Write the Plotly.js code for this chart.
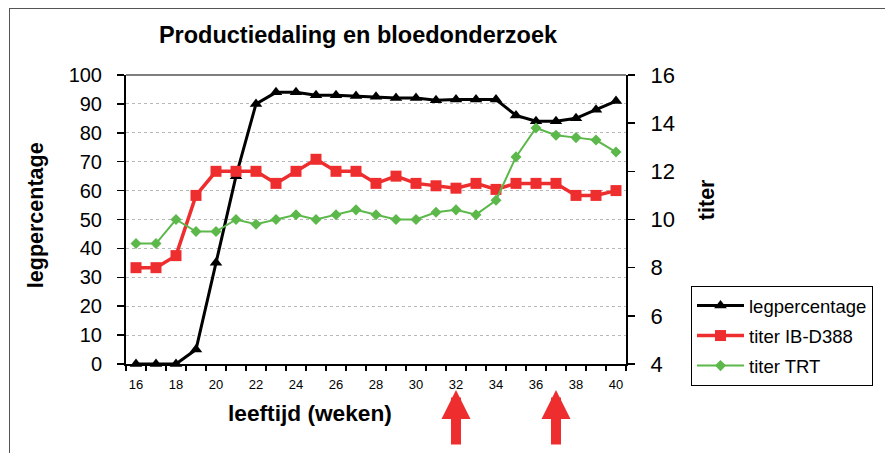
<!DOCTYPE html>
<html>
<head>
<meta charset="utf-8">
<script src="https://cdn.plot.ly/plotly-3.0.1.min.js"></script>
<style>
html,body{margin:0;padding:0;background:#fff;}
#wrap{position:relative;width:885px;height:453px;overflow:hidden;}
#chart{position:absolute;left:0;top:0;width:885px;height:453px;}
#frame{position:absolute;left:9px;top:8px;width:900px;height:460px;border-left:1.5px solid #555;border-top:1.5px solid #555;pointer-events:none;}
</style>
</head>
<body>
<div id="wrap"><div id="chart"></div><div id="frame"></div></div>
<script>
// Data
var weeks = [16,17,18,19,20,21,22,23,24,25,26,27,28,29,30,31,32,33,34,35,36,37,38,39,40];
var legpercentage = [0,0,0,5,35,65,90,94,94,93,93,92.7,92.5,92,92,91.3,91.5,91.5,91.5,86,84,84,85,88,91];
var titerIBD388 = [8,8,8.5,11,12,12,12,11.5,12,12.5,12,12,11.5,11.8,11.5,11.4,11.3,11.5,11.25,11.5,11.5,11.5,11,11,11.2];
var titerTRT = [9,9,10,9.5,9.5,10,9.8,10,10.2,10,10.2,10.4,10.2,10,10,10.3,10.4,10.2,10.8,12.6,13.8,13.5,13.4,13.3,12.8];
var xTickVals = [16,18,20,22,24,26,28,30,32,34,36,38,40];
var xTickText = ['16','18','20','22','24','26','28','30','32','34','36','38','40'];
var xBoundaries = [15.5,16.5,17.5,18.5,19.5,20.5,21.5,22.5,23.5,24.5,25.5,26.5,27.5,28.5,29.5,30.5,31.5,32.5,33.5,34.5,35.5,36.5,37.5,38.5,39.5,40.5];
var arrowWeeks = [32,37];

var FONT = 'Liberation Sans, Arial, sans-serif';

var traces = [
  {x: weeks, y: legpercentage, name: 'legpercentage', type: 'scatter', mode: 'lines+markers',
   line: {color: '#000000', width: 3}, marker: {symbol: 'triangle-up', size: 11, color: '#000000'},
   yaxis: 'y', cliponaxis: false, legendgroup: 'a'},
  {x: weeks, y: titerIBD388, name: 'titer IB-D388', type: 'scatter', mode: 'lines+markers',
   line: {color: '#ee2e2e', width: 3.5}, marker: {symbol: 'square', size: 11, color: '#ee2e2e'},
   yaxis: 'y2', cliponaxis: false, legendgroup: 'b'},
  {x: weeks, y: titerTRT, name: 'titer TRT', type: 'scatter', mode: 'lines+markers',
   line: {color: '#5cb84a', width: 2}, marker: {symbol: 'diamond', size: 8.5, color: '#5cb84a'},
   yaxis: 'y2', cliponaxis: false, legendgroup: 'c'}
];

var annotations = [
  {text: '<b>leeftijd (weken)</b>', xref: 'paper', yref: 'paper', x: 0.368, y: -0.17,
   xanchor: 'center', yanchor: 'middle', showarrow: false, font: {family: FONT, size: 22.7, color: '#000'}},
  {text: '<b>legpercentage</b>', xref: 'paper', yref: 'paper', x: -0.18, y: 0.515, textangle: -90,
   xanchor: 'center', yanchor: 'middle', showarrow: false, font: {family: FONT, size: 21.5, color: '#000'}},
  {text: '<b>titer</b>', xref: 'paper', yref: 'paper', x: 1.162, y: 0.567, textangle: -90,
   xanchor: 'center', yanchor: 'middle', showarrow: false, font: {family: FONT, size: 21.5, color: '#000'}}
];
arrowWeeks.forEach(function(w){
  annotations.push({text: ' ', x: w, xref: 'x', y: -0.09, yref: 'paper', showarrow: true,
    ax: 0, ay: 80, axref: 'pixel', ayref: 'pixel', arrowhead: 2, arrowsize: 0.58, arrowwidth: 10,
    arrowcolor: '#ee2e2e', standoff: 0, startstandoff: 0});
});

var layout = {
  width: 885, height: 453,
  margin: {l: 126, r: 259, t: 75, b: 89, pad: 0},
  paper_bgcolor: 'rgba(0,0,0,0)', plot_bgcolor: 'rgba(0,0,0,0)',
  font: {family: FONT, color: '#000'},
  title: {text: '<b>Productiedaling en bloedonderzoek</b>', font: {family: FONT, size: 23.5, color: '#000'},
          xref: 'paper', x: 0.464, xanchor: 'center', y: 0.923, yanchor: 'middle'},
  showlegend: true,
  legend: {x: 1.13, xanchor: 'left', y: 0.27, yanchor: 'top', bgcolor: '#ffffff', bordercolor: '#000',
           borderwidth: 1, font: {family: FONT, size: 18.5, color: '#000'}, traceorder: 'grouped',
           tracegroupgap: 3, itemwidth: 47},
  xaxis: {range: [15.5, 40.5], tickmode: 'array', tickvals: xTickVals, ticktext: xTickText,
          ticks: '', showgrid: false, zeroline: false, showline: true, linecolor: '#000', linewidth: 2,
          tickfont: {family: FONT, size: 13, color: '#000'}, ticklabelstandoff: 7,
          minor: {tickmode: 'array', tickvals: xBoundaries, ticks: 'outside', ticklen: 5, tickwidth: 1.5, tickcolor: '#000', showgrid: false}},
  yaxis: {range: [0, 100], tickmode: 'linear', tick0: 0, dtick: 10, ticks: 'outside', ticklen: 7,
          tickwidth: 1.5, tickcolor: '#000', showline: true, linecolor: '#000', linewidth: 2,
          showgrid: true, gridcolor: '#b8b8b8', griddash: 'dot', gridwidth: 1, zeroline: false,
          tickfont: {family: FONT, size: 20, color: '#000'}, ticklabelstandoff: 11},
  yaxis2: {range: [4, 16], overlaying: 'y', side: 'right', tickmode: 'linear', tick0: 4, dtick: 2,
           ticks: 'outside', ticklen: 7, tickwidth: 1.5, tickcolor: '#000', showline: true,
           linecolor: '#000', linewidth: 2, showgrid: false, zeroline: false,
           tickfont: {family: FONT, size: 22, color: '#000'}, ticklabelstandoff: 11},
  shapes: [
    {type: 'line', xref: 'paper', yref: 'paper', x0: 0, x1: 1, y0: 1, y1: 1, line: {color: '#555', width: 1.5}}
  ],
  annotations: annotations
};

Plotly.newPlot('chart', traces, layout, {displayModeBar: false, staticPlot: true});
</script>
</body>
</html>
